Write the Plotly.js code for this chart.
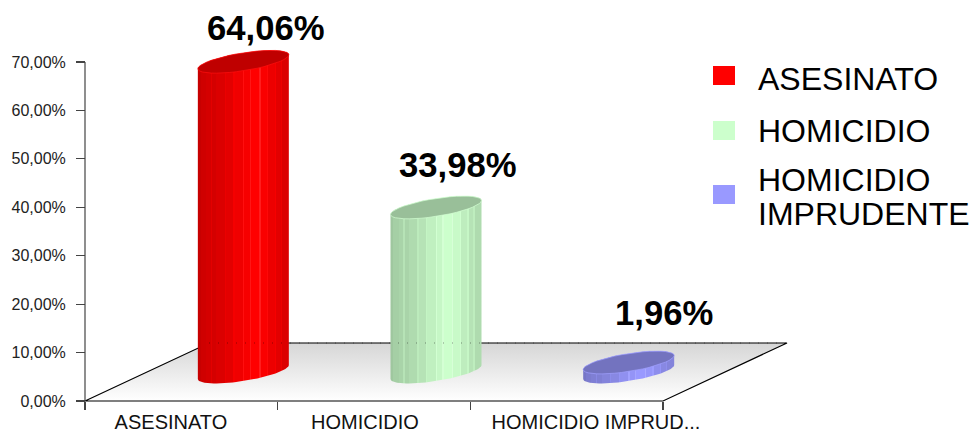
<!DOCTYPE html>
<html><head><meta charset="utf-8">
<script src="https://cdn.plot.ly/plotly-3.0.1.min.js"></script>
<style>html,body{margin:0;padding:0;background:#fff}#c{width:970px;height:430px}</style>
</head><body><div id="c"></div>
<script>
const categories=['ASESINATO','HOMICIDIO','HOMICIDIO IMPRUDENTE'];
const axisLabels=['ASESINATO','HOMICIDIO','HOMICIDIO IMPRUD...'];
const legendLines=[['ASESINATO'],['HOMICIDIO'],['HOMICIDIO','IMPRUDENTE']];
const values=[64.06,33.98,1.96];
const yTicks=[0,10,20,30,40,50,60,70];
const sideColors=[[255,0,0],[204,255,204],[153,153,255]];
const topColors=['#BF0000','#99BF99','#7373BF'];
const labelNudge=[[23,-34],[22,-42],[35,-50]];

const W=970,H=430,L=85,B=401,T=62;
const pxX=192.67, pxY=(B-T)/70;
const depthX=124/pxX, depthY=58/pxY;
const rx=45.5, ry=9, tilt=7/45.5;
const axisColor='#444';
// shade of the side per facet, left to right: [width share, brightness]
const facets=[[.03,.78],[.06,.81],[.05,.83],[.015,.89],[.05,.83],[.09,.86],[.015,.92],[.08,.89],[.015,.96],[.09,.94],[.015,1.02],[.06,.97],[.015,1.03],[.09,1],[.015,1.04],[.07,.98],[.015,1.01],[.07,.93],[.015,.97],[.05,.89],[.015,.93],[.03,.86]];

const fmt=v=>v.toFixed(2).replace('.',',')+'%';
function shade(rgb,k){
  const c=rgb.map(v=>k<=1?Math.round(v*k):Math.round(v+(255-v)*(k-1)*2.2)+Math.round((k-1)*180));
  return `rgb(${c.map(v=>Math.min(255,v)).join(',')})`;
}
function ramp(rgb){
  const out=[];let p=0;
  facets.forEach(([w,k])=>{const c=shade(rgb,k);out.push([p,c]);p=Math.min(1,p+w);out.push([p,c]);});
  out[out.length-1][0]=1;
  return out;
}
const cx=i=>i+.5+depthX/2, by=depthY/2;
const dx=p=>p/pxX, dy=p=>p/pxY;
const n=40;
function arc(i,yc,t0,t1){
  const xs=[],ys=[];
  for(let j=0;j<=n;j++){
    const t=t0+(t1-t0)*j/n, u=rx*Math.cos(t), v=ry*Math.sin(t);
    xs.push(cx(i)+dx(u)); ys.push(yc+dy(u*tilt+v));
  }
  return [xs,ys];
}
const line={color:'#000',width:1.2};
const traces=[];
// floor
traces.push({x:[0,3,3+depthX,depthX,0],y:[0,0,depthY,depthY,0],mode:'lines',line,fill:'toself',
  fillgradient:{type:'vertical',colorscale:[[0,'#ffffff'],[1,'#d6d6d6']]},hoverinfo:'skip',showlegend:false});
values.forEach((v,i)=>{
  const top=by+v;
  const [bx,bY]=arc(i,by,Math.PI,2*Math.PI);
  const [tx,tY]=arc(i,top,0,Math.PI);
  traces.push({x:bx.concat(tx,[bx[0]]),y:bY.concat(tY,[bY[0]]),mode:'lines',line:{width:0},fill:'toself',
    fillgradient:{type:'horizontal',colorscale:ramp(sideColors[i])},name:categories[i],showlegend:false,hoverinfo:'name'});
  const [ex,ey]=arc(i,top,0,2*Math.PI);
  traces.push({x:ex,y:ey,mode:'lines',line:{width:.7,color:shade(sideColors[i],1.02)},fill:'toself',fillcolor:topColors[i],hoverinfo:'skip',showlegend:false});
});
// back edge of the floor, seen through the columns
traces.push({x:[depthX,3+depthX],y:[depthY,depthY],mode:'lines',line:{color:'rgba(0,0,0,.4)',width:1,dash:'1px 8px'},hoverinfo:'skip',showlegend:false});
// keeps the label axis on the page
traces.push({x:[0],y:[0],xaxis:'x2',mode:'markers',marker:{size:1,opacity:0},hoverinfo:'skip',showlegend:false});

const shapes=[{type:'line',xref:'x',yref:'y',x0:0,x1:0,y0:0,y1:70,line:{color:axisColor,width:1.2}}];
const annotations=[];
const legendRows=[[75.5,[79]],[130.5,[131]],[194.5,[180,214]]];
const pxx=p=>p/W, pxy=p=>1-p/H;
categories.forEach((c,i)=>{
  const [sy,tys]=legendRows[i];
  shapes.push({type:'rect',xref:'paper',yref:'paper',x0:pxx(713),x1:pxx(735),y0:pxy(sy-9.5),y1:pxy(sy+9.5),
    fillcolor:shade(sideColors[i],1),line:{width:0}});
  legendLines[i].forEach((t,j)=>annotations.push({xref:'paper',yref:'paper',x:pxx(756),y:pxy(tys[j]),xanchor:'left',yanchor:'middle',align:'left',showarrow:false,
    text:t,font:{family:'Liberation Sans',size:32,color:'#000'}}));
  annotations.push({x:cx(i),y:by+values[i],xref:'x',yref:'y',xanchor:'center',yanchor:'middle',xshift:labelNudge[i][0],yshift:-labelNudge[i][1],showarrow:false,
    text:fmt(values[i]),font:{family:'Liberation Sans',size:34.67,color:'#000',weight:700}});
});

const xRange=[-L/pxX,(W-L)/pxX], yRange=[-(H-B)/pxY,B/pxY];
Plotly.newPlot('c',traces,{
  width:W,height:H,margin:{l:0,r:0,t:0,b:0,pad:0},paper_bgcolor:'#fff',plot_bgcolor:'rgba(0,0,0,0)',
  showlegend:false,hovermode:false,shapes,annotations,
  font:{family:'Liberation Sans',color:'#222'},
  xaxis:{range:xRange,anchor:'free',position:(H-B)/H,showgrid:false,zeroline:false,showline:false,ticks:'outside',ticklen:8,tickwidth:1.2,tickcolor:axisColor,
    tickmode:'array',tickvals:[0,1,2,3],ticktext:['','','',''],fixedrange:true},
  xaxis2:{range:xRange,overlaying:'x',anchor:'free',position:(H-B)/H,side:'bottom',showgrid:false,zeroline:false,showline:false,ticks:'',
    tickmode:'array',tickvals:[.446,1.453,2.652],ticktext:axisLabels,tickfont:{size:20,color:'#111'},ticklabelstandoff:7,fixedrange:true,tickangle:0},
  yaxis:{range:yRange,anchor:'free',position:L/W,tickmode:'array',tickvals:yTicks,ticktext:yTicks.map(fmt),showgrid:false,zeroline:false,showline:false,
    ticks:'outside',ticklen:9,tickwidth:1.2,tickcolor:axisColor,ticklabelstandoff:7,tickfont:{size:16,color:'#222'},fixedrange:true}
},{displayModeBar:false,staticPlot:true});
</script></body></html>
